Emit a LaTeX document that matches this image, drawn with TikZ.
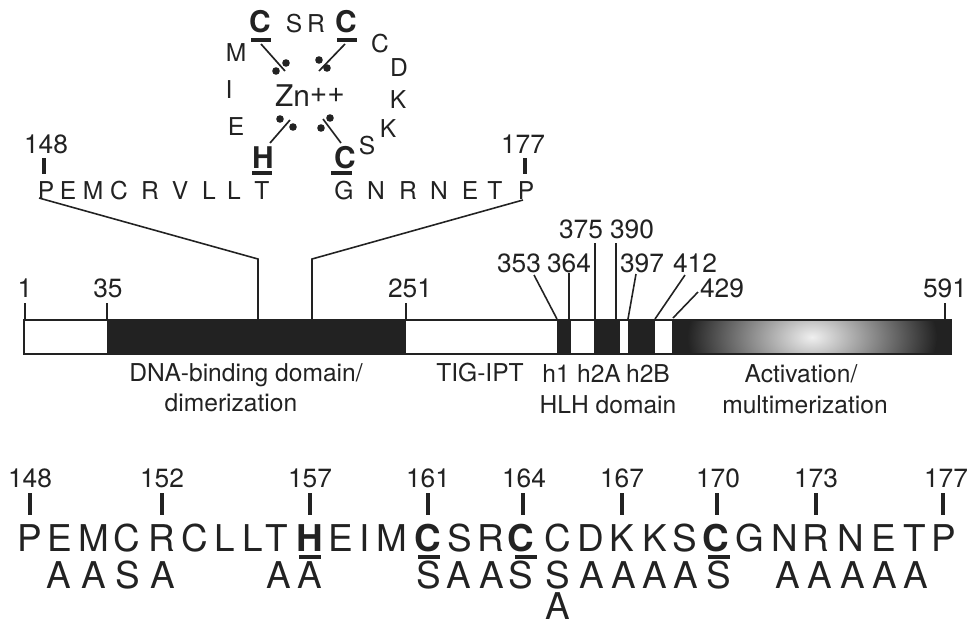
\documentclass[tikz,border=0pt]{standalone}
\usepackage{fontspec}
\setmainfont{TeX Gyre Heros}
\definecolor{ink}{HTML}{222222}
\tikzset{
  lab/.style={inner sep=0pt, anchor=base, text=ink, font=\fontsize{14}{16}\selectfont},
  num/.style={lab, font=\fontsize{15}{18}\selectfont},
  res/.style={lab, font=\fontsize{21}{25}\selectfont},
  hit/.style={lab, font=\fontsize{17}{20}\bfseries\selectfont},
  bighit/.style={lab, font=\fontsize{21}{25}\bfseries\selectfont},
  thinline/.style={draw=ink, line width=0.9pt},
  tick/.style={draw=ink, line width=2.4pt},
  underbar/.style={draw=ink, line width=2.4pt},
  bond/.style={draw=ink, line width=0.95pt},
}
\begin{document}
\begin{tikzpicture}[x=0.02cm, y=-0.02cm]
  \useasboundingbox (0,0) rectangle (968,623);
  % zinc finger loop
  \node[hit] (c1) at (260,32) {C};
  \node[lab] (s1) at (294,32) {S};
  \node[lab] (r1) at (316,32) {R};
  \node[hit] (c2) at (346,32) {C};
  \node[lab] (c3) at (380,52) {C};
  \node[lab] (d1) at (399,76) {D};
  \node[lab] (k1) at (398,108) {K};
  \node[lab] (k2) at (388,137) {K};
  \node[lab] (s2) at (367,154) {S};
  \node[lab] (m1) at (236,61) {M};
  \node[lab] (i1) at (229,98) {I};
  \node[lab] (e1) at (236,135) {E};
  \node[hit] (h1) at (263,168) {H};
  \node[hit] (c4) at (345,168) {C};
  \node[lab, font=\fontsize{17}{20}\selectfont] (zn) at (310,106) {Zn\raisebox{2pt}{++}};
  \draw[underbar] (251,40) -- (271,40);
  \draw[underbar] (337,40) -- (357,40);
  \draw[underbar] (252,173) -- (272,173);
  \draw[underbar] (331,173) -- (352,173);
  \draw[bond] (261,44) -- (285,71);
  \draw[bond] (345,44) -- (319,71);
  \draw[bond] (270,143) -- (290,120);
  \draw[bond] (341,143) -- (323,119);
  \fill[ink] (276,71) circle (3.8);
  \fill[ink] (286,63) circle (3.8);
  \fill[ink] (319,60) circle (3.8);
  \fill[ink] (327,68) circle (3.8);
  \fill[ink] (280,119) circle (3.8);
  \fill[ink] (293,127) circle (3.8);
  \fill[ink] (330,118) circle (3.8);
  \fill[ink] (321,128) circle (3.8);
  % sequence above the bar
  \node[num] (n148) at (46,153) {148};
  \node[num] (n177) at (523,153) {177};
  \coordinate (t148a) at (44,158);
  \coordinate (t148b) at (44,174);
  \coordinate (t177a) at (525,158);
  \coordinate (t177b) at (525,174);
  \draw[tick] (t148a) -- (t148b);
  \draw[tick] (t177a) -- (t177b);
  \node[lab] (ta) at (46,199) {P};
  \node[lab] (tb) at (68,199) {E};
  \node[lab] (tc) at (93,199) {M};
  \node[lab] (td) at (119,199) {C};
  \node[lab] (te) at (150,199) {R};
  \node[lab] (tf) at (180,199) {V};
  \node[lab] (tg) at (209,199) {L};
  \node[lab] (th) at (234,199) {L};
  \node[lab] (ti) at (262,199) {T};
  \node[lab] (tj) at (344,199) {G};
  \node[lab] (tk) at (376,199) {N};
  \node[lab] (tl) at (408,199) {R};
  \node[lab] (tm) at (439,199) {N};
  \node[lab] (tn) at (470,199) {E};
  \node[lab] (to) at (495,199) {T};
  \node[lab] (tp) at (526,199) {P};
  % the protein bar
  \fill[white, draw=ink, line width=0.9pt] (24,320) rectangle (951,354);
  \fill[ink] (107,319) rectangle (406,354);
  \fill[ink] (557,319) rectangle (571,354);
  \fill[ink] (594,319) rectangle (620,355);
  \fill[ink] (628,319) rectangle (655,354);
  \fill[ink] (672,319) rectangle (951,354);
  \begin{scope}
    \clip (672,321) rectangle (951,352);
    \shade[inner color=white!94!black, outer color=ink] (812,337) ellipse (125 and 75);
  \end{scope}
  % lines from the short sequence to the bar
  \coordinate (fanla) at (39,198);
  \coordinate (fanlb) at (258,259);
  \coordinate (fanlc) at (258,319);
  \coordinate (fanra) at (523,200);
  \coordinate (fanrb) at (312,259);
  \coordinate (fanrc) at (312,319);
  \draw[thinline] (fanla) -- (fanlb) -- (fanlc);
  \draw[thinline] (fanra) -- (fanrb) -- (fanrc);
  % position labels
  \node[num] (p1) at (25,297) {1};
  \node[num] (p35) at (108,297) {35};
  \node[num] (p251) at (410,297) {251};
  \node[num] (p353) at (519,272) {353};
  \node[num] (p364) at (569,272) {364};
  \node[num] (p375) at (581,238) {375};
  \node[num] (p390) at (632,238) {390};
  \node[num] (p397) at (642,272) {397};
  \node[num] (p412) at (695,272) {412};
  \node[num] (p429) at (722,297) {429};
  \node[num] (p591) at (945,297) {591};
  \coordinate (a1) at (25,303);
  \coordinate (b1) at (25,319);
  \coordinate (a35) at (107,303);
  \coordinate (b35) at (107,319);
  \coordinate (a251) at (406,303);
  \coordinate (b251) at (406,319);
  \coordinate (a353) at (534,275);
  \coordinate (b353) at (557,319);
  \coordinate (a364) at (569,273);
  \coordinate (b364) at (569,319);
  \coordinate (a375) at (595,243);
  \coordinate (b375) at (595,319);
  \coordinate (a390) at (616,243);
  \coordinate (b390) at (616,319);
  \coordinate (a397) at (636,274);
  \coordinate (b397) at (628,319);
  \coordinate (a412) at (685,275);
  \coordinate (b412) at (655,319);
  \coordinate (a429) at (698,292);
  \coordinate (b429) at (673,318);
  \coordinate (a591) at (945,303);
  \coordinate (b591) at (945,319);
  \draw[thinline] (a1) -- (b1);
  \draw[thinline] (a35) -- (b35);
  \draw[thinline] (a251) -- (b251);
  \draw[thinline] (a353) -- (b353);
  \draw[thinline] (a364) -- (b364);
  \draw[thinline] (a375) -- (b375);
  \draw[thinline] (a390) -- (b390);
  \draw[thinline] (a397) -- (b397);
  \draw[thinline] (a412) -- (b412);
  \draw[thinline] (a429) -- (b429);
  \draw[thinline] (a591) -- (b591);
  % domain names
  \node[lab] (dna) at (246,381) {DNA-binding domain/};
  \node[lab] (dim) at (231,411) {dimerization};
  \node[lab] (tig) at (480,381) {TIG-IPT};
  \node[lab] (hone) at (556,382) {h1};
  \node[lab] (htwoa) at (599,382) {h2A};
  \node[lab] (htwob) at (648,382) {h2B};
  \node[lab] (hlh) at (608,413) {HLH domain};
  \node[lab] (act) at (801,382) {Activation/};
  \node[lab] (mul) at (805,413) {multimerization};
  % numbers over the long sequence
  \node[num] (m148) at (30,487) {148};
  \node[num] (m152) at (162,487) {152};
  \node[num] (m157) at (310,487) {157};
  \node[num] (m161) at (428,487) {161};
  \node[num] (m164) at (524,487) {164};
  \node[num] (m167) at (622,487) {167};
  \node[num] (m170) at (718,487) {170};
  \node[num] (m173) at (816,487) {173};
  \node[num] (m177) at (946,487) {177};
  \draw[tick] (30,493) -- (30,515);
  \draw[tick] (162,493) -- (162,515);
  \draw[tick] (310,493) -- (310,515);
  \draw[tick] (428,493) -- (428,515);
  \draw[tick] (523,493) -- (523,515);
  \draw[tick] (622,493) -- (622,515);
  \draw[tick] (717,493) -- (717,515);
  \draw[tick] (816,493) -- (816,515);
  \draw[tick] (943,493) -- (943,515);
  % long sequence
  \node[res] (r148) at (30,551) {P};
  \node[res] (r149) at (60,551) {E};
  \node[res] (r150) at (94,551) {M};
  \node[res] (r151) at (127,551) {C};
  \node[res] (r152) at (162,551) {R};
  \node[res] (r153) at (195,551) {C};
  \node[res] (r154) at (225,551) {L};
  \node[res] (r155) at (253,551) {L};
  \node[res] (r156) at (277,551) {T};
  \node[bighit] (r157) at (310,551) {H};
  \node[res] (r158) at (341,551) {E};
  \node[res] (r159) at (365,551) {I};
  \node[res] (r160) at (392,551) {M};
  \node[bighit] (r161) at (428,551) {C};
  \node[res] (r162) at (460,551) {S};
  \node[res] (r163) at (491,551) {R};
  \node[bighit] (r164) at (521,551) {C};
  \node[res] (r165) at (558,551) {C};
  \node[res] (r166) at (591,551) {D};
  \node[res] (r167) at (622,551) {K};
  \node[res] (r168) at (655,551) {K};
  \node[res] (r169) at (685,551) {S};
  \node[bighit] (r170) at (716,551) {C};
  \node[res] (r171) at (750,551) {G};
  \node[res] (r172) at (785,551) {N};
  \node[res] (r173) at (816,551) {R};
  \node[res] (r174) at (851,551) {N};
  \node[res] (r175) at (884,551) {E};
  \node[res] (r176) at (915,551) {T};
  \node[res] (r177) at (944,551) {P};
  \draw[underbar] (299,557) -- (321,557);
  \draw[underbar] (418,557) -- (440,557);
  \draw[underbar] (515,557) -- (537,557);
  \draw[underbar] (708,557) -- (730,557);
  % substitutions
  \node[res] (x149) at (59,588) {A};
  \node[res] (x150) at (94,588) {A};
  \node[res] (x151) at (128,588) {S};
  \node[res] (x152) at (163,588) {A};
  \node[res] (x156) at (279,588) {A};
  \node[res] (x157) at (310,588) {A};
  \node[res] (x161) at (429,588) {S};
  \node[res] (x162) at (459,588) {A};
  \node[res] (x163) at (492,588) {A};
  \node[res] (x164) at (521,588) {S};
  \node[res] (x165) at (558,588) {S};
  \node[res] (x166) at (592,588) {A};
  \node[res] (x167) at (624,588) {A};
  \node[res] (x168) at (655,588) {A};
  \node[res] (x169) at (686,588) {A};
  \node[res] (x170) at (719,588) {S};
  \node[res] (x172) at (788,588) {A};
  \node[res] (x173) at (820,588) {A};
  \node[res] (x174) at (853,588) {A};
  \node[res] (x175) at (885,588) {A};
  \node[res] (x176) at (916,588) {A};
  \node[res] (y165) at (558,619) {A};
\end{tikzpicture}
\end{document}
